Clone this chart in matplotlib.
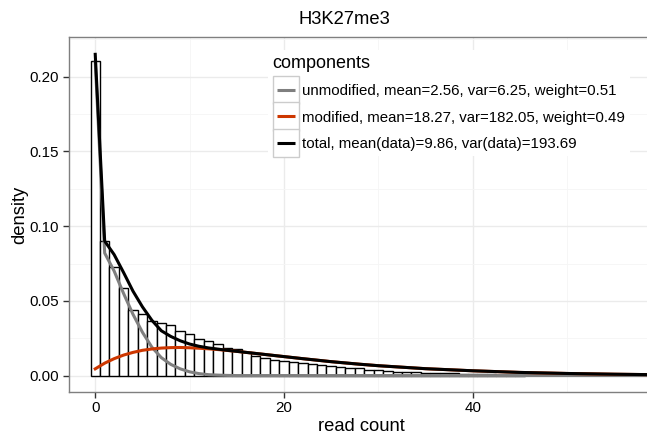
import matplotlib
matplotlib.use("Agg")
import matplotlib.pyplot as plt
from matplotlib.legend_handler import HandlerLine2D
from matplotlib.lines import Line2D
from matplotlib.patches import Rectangle
from matplotlib.ticker import MultipleLocator

plt.rcParams['font.family'] = ['Liberation Sans', 'DejaVu Sans']

# histogram of read counts (density per integer count)
read_count = list(range(46))
bar_density = [0.2105, 0.0898, 0.0726, 0.0585, 0.0442, 0.0409, 0.0364, 0.0351,
               0.0337, 0.0297, 0.0279, 0.0246, 0.0234, 0.0212, 0.0183, 0.0176,
               0.0156, 0.0134, 0.0116, 0.0105, 0.0100, 0.0089, 0.0085, 0.0078,
               0.0072, 0.0067, 0.0060, 0.0052, 0.0050, 0.0040, 0.0034, 0.0030,
               0.0027, 0.0025, 0.0021, 0.0020, 0.0020, 0.0016, 0.0014, 0.0012,
               0.0010, 0.0009, 0.0008, 0.0006, 0.0005, 0.0004]

# fitted component curves
curve_x = [0, 1, 2, 3, 4, 5, 6, 7, 8, 9, 10, 11, 12, 13, 14, 15, 16, 17, 18,
           19, 20, 22, 25, 28, 30, 35, 40, 45, 50, 55, 59]
unmodified = [0.210, 0.082, 0.070, 0.055, 0.041, 0.029, 0.019, 0.012, 0.0075,
              0.0045, 0.0025, 0.0013, 0.0006, 0.0003, 0.0001, 0, 0, 0, 0,
              0, 0, 0, 0, 0, 0, 0, 0, 0, 0, 0, 0]
modified = [0.0045, 0.0083, 0.0113, 0.0137, 0.0155, 0.0169, 0.0178, 0.0184,
            0.0187, 0.0188, 0.0186, 0.0183, 0.0179, 0.0174, 0.0168, 0.0162,
            0.0155, 0.0148, 0.0141, 0.0134, 0.0127, 0.0113, 0.0093, 0.0076,
            0.0066, 0.0046, 0.0032, 0.0021, 0.0014, 0.0009, 0.0006]
total = [0.215, 0.090, 0.081, 0.069, 0.0565, 0.046, 0.037, 0.030, 0.0262,
         0.0233, 0.0211, 0.0196, 0.0185, 0.0177, 0.0169, 0.0162, 0.0155,
         0.0148, 0.0141, 0.0134, 0.0127, 0.0113, 0.0093, 0.0076, 0.0066,
         0.0046, 0.0032, 0.0021, 0.0014, 0.0009, 0.0006]

labels = ['unmodified, mean=2.56, var=6.25, weight=0.51',
          'modified, mean=18.27, var=182.05, weight=0.49',
          'total, mean(data)=9.86, var(data)=193.69']
colors = ['#7F7F7F', '#CD3700', '#000000']


class KeyHandler(HandlerLine2D):
    """ggplot-like legend key: grey bordered box with a line inside"""

    def create_artists(self, legend, orig_handle, xdescent, ydescent,
                       width, height, fontsize, trans):
        box = Rectangle((-xdescent, -ydescent - 5.5), width, height + 11,
                        facecolor='white', edgecolor='#CCCCCC', lw=1.0,
                        transform=trans)
        y = -ydescent + height / 2
        line = Line2D([-xdescent + 3, -xdescent + width - 3], [y, y],
                      color=orig_handle.get_color(), lw=2.2,
                      solid_capstyle='butt', transform=trans)
        return [box, line]


W, H = 647, 437
fig = plt.figure(figsize=(W / 100, H / 100), dpi=100)
ax = fig.add_axes([69 / W, 1 - 391.7 / H, (653 - 69) / W, (391.7 - 37.3) / H])

ax.bar(read_count, bar_density, width=1.0, facecolor='white',
       edgecolor='black', linewidth=1.0, zorder=2)

handles = []
for ys, c, lab in zip([unmodified, modified, total], colors, labels):
    h, = ax.plot(curve_x, ys, color=c, lw=2.2, zorder=3,
                 solid_joinstyle='round', label=lab)
    handles.append(h)

ax.set_xlim(-2.78, 59.1)
ax.set_ylim(-0.0108, 0.2264)
ax.xaxis.set_major_locator(MultipleLocator(20))
ax.xaxis.set_minor_locator(MultipleLocator(10))
ax.yaxis.set_major_locator(MultipleLocator(0.05))
ax.yaxis.set_minor_locator(MultipleLocator(0.025))
ax.yaxis.set_major_formatter(plt.FuncFormatter(lambda v, p: f'{v:.2f}'))

ax.grid(True, which='major', color='#EBEBEB', lw=1.0, zorder=0)
ax.grid(True, which='minor', color='#F5F5F5', lw=0.6, zorder=0)
ax.set_axisbelow(True)
for sp in ax.spines.values():
    sp.set_color('#7F7F7F')
    sp.set_linewidth(1.0)

ax.tick_params(which='major', length=4, width=1, color='#333333',
               labelsize=10.9, labelcolor='black', pad=3)
ax.tick_params(which='minor', length=0)

ax.set_xlabel('read count', fontsize=13.2, labelpad=1.5)
ax.set_ylabel('density', fontsize=13.2, labelpad=1)
fig.text(344 / W, 1 - 20 / H, 'H3K27me3', fontsize=13.2,
         ha='center', va='center')

leg = ax.legend(handles=handles, loc='upper left',
                bbox_to_anchor=(268 / W, 1 - 50 / H),
                bbox_transform=fig.transFigure,
                handler_map={Line2D: KeyHandler()},
                title='components', title_fontsize=13,
                fontsize=10.8, alignment='left',
                handlelength=1.78, handleheight=1.0, handletextpad=0.2,
                labelspacing=0.78, borderpad=0.3, borderaxespad=0,
                frameon=True, facecolor='white', edgecolor='none',
                framealpha=1.0, fancybox=False)
leg.set_zorder(5)

fig.savefig('out.png', dpi=100)
